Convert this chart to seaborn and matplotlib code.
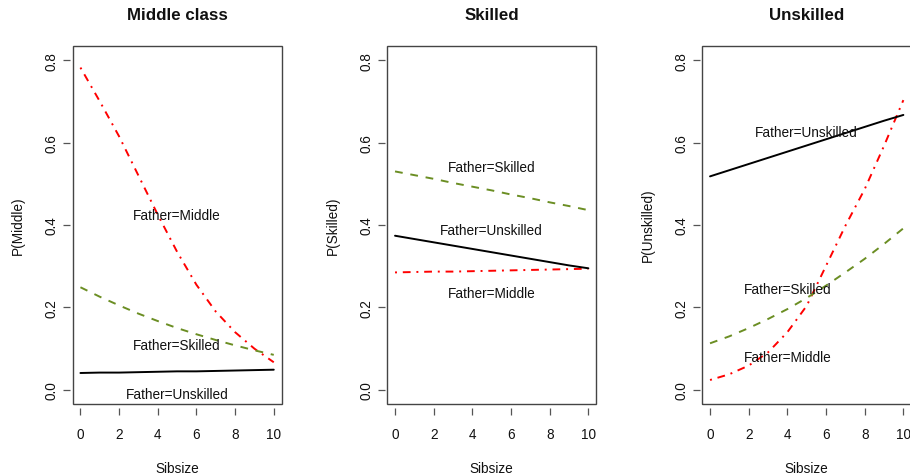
import matplotlib
matplotlib.use("Agg")
import matplotlib.pyplot as plt
from matplotlib.patches import Rectangle
import numpy as np
import pandas as pd
import seaborn as sns

sibsize = [0, 1, 2, 3, 4, 5, 6, 7, 8, 9, 10]

# Panel 1: P(Middle)
middle_fmiddle = [0.782, 0.700, 0.615, 0.520, 0.425, 0.335, 0.255, 0.190, 0.140, 0.100, 0.067]
middle_fskilled = [0.249, 0.226, 0.205, 0.185, 0.167, 0.150, 0.135, 0.121, 0.108, 0.096, 0.085]
middle_funskilled = [0.041, 0.042, 0.042, 0.043, 0.044, 0.045, 0.045, 0.046, 0.047, 0.048, 0.049]

# Panel 2: P(Skilled)
skilled_fskilled = [0.530, 0.521, 0.512, 0.502, 0.493, 0.484, 0.474, 0.465, 0.455, 0.446, 0.436]
skilled_funskilled = [0.374, 0.366, 0.358, 0.350, 0.342, 0.334, 0.326, 0.318, 0.310, 0.302, 0.295]
skilled_fmiddle = [0.285, 0.286, 0.287, 0.287, 0.288, 0.289, 0.290, 0.291, 0.292, 0.293, 0.294]

# Panel 3: P(Unskilled)
unskilled_funskilled = [0.518, 0.533, 0.548, 0.563, 0.578, 0.593, 0.608, 0.623, 0.638, 0.653, 0.667]
unskilled_fskilled = [0.113, 0.130, 0.150, 0.172, 0.196, 0.223, 0.253, 0.285, 0.318, 0.354, 0.392]
unskilled_fmiddle = [0.024, 0.038, 0.059, 0.091, 0.140, 0.204, 0.301, 0.398, 0.487, 0.592, 0.703]

titles = ["Middle class", "Skilled", "Unskilled"]
ylabels = ["P(Middle)", "P(Skilled)", "P(Unskilled)"]
xlabel = "Sibsize"
xticks = [0, 2, 4, 6, 8, 10]
yticks = [0.0, 0.2, 0.4, 0.6, 0.8]
ytick_labels = ["0.0", "0.2", "0.4", "0.6", "0.8"]

# label positions (x, y) per panel for Middle, Skilled, Unskilled fathers
label_text = ["Father=Middle", "Father=Skilled", "Father=Unskilled"]
label_pos = [
    [(5.0, 0.425), (5.0, 0.109), (5.0, -0.010)],
    [(5.0, 0.234), (5.0, 0.541), (5.0, 0.388)],
    [(4.0, 0.081), (4.0, 0.245), (5.0, 0.626)],
]

panels = [
    (middle_fmiddle, middle_fskilled, middle_funskilled),
    (skilled_fmiddle, skilled_fskilled, skilled_funskilled),
    (unskilled_fmiddle, unskilled_fskilled, unskilled_funskilled),
]

colors = ["#FF0000", "#6B8E23", "#000000"]
styles = [(0, (1, 3, 4, 3)), (0, (4, 4)), "-"]

sns.set_theme(style="white")
plt.rcParams["font.family"] = ["Liberation Sans", "DejaVu Sans"]

fig = plt.figure(figsize=(9.1, 4.77), dpi=100)
lefts = [72.7 / 910, 387.3 / 910, 702.3 / 910]
width = 208.8 / 910
bottom = 1 - 404.5 / 477
height = (404.5 - 46.7) / 477

for i, (vals, left) in enumerate(zip(panels, lefts)):
    ax = fig.add_axes([left, bottom, width, height])
    for sp in ax.spines.values():
        sp.set_visible(False)
    ax.spines["bottom"].set_position(("outward", 3))
    ax.spines["left"].set_position(("outward", 2))
    for v, c, ls in zip(vals, colors, styles):
        sns.lineplot(x=sibsize, y=v, color=c, linestyle=ls, linewidth=1.4, ax=ax)
    for (tx, ty), t in zip(label_pos[i], label_text):
        ax.text(tx, ty, t, ha="center", va="center", fontsize=9.8, color="#111111")
    ax.set_xlim(-0.4, 10.4)
    ax.set_ylim(-0.033, 0.835)
    ax.set_xticks(xticks)
    ax.set_xticklabels([str(t) for t in xticks], fontsize=9.8)
    ax.set_yticks(yticks)
    ax.set_yticklabels(ytick_labels, fontsize=9.8)
    for lab in ax.get_yticklabels():
        lab.set_rotation(90)
        lab.set_va("center")
    ax.add_patch(Rectangle((0, 0), 1, 1, transform=ax.transAxes, fill=False,
                           edgecolor="#444444", linewidth=1.0, clip_on=False))
    ax.tick_params(axis="both", which="both", direction="out", length=5,
                   width=0.9, color="#555555", labelcolor="#111111",
                   bottom=True, left=True)
    ax.tick_params(axis="x", pad=9)
    ax.tick_params(axis="y", pad=3)
    ax.set_xlabel(xlabel, fontsize=9.8, labelpad=14, color="#111111")
    ax.set_ylabel(ylabels[i], fontsize=9.8, labelpad=14, color="#111111")
    ax.set_title(titles[i], fontsize=12.2, fontweight="bold", pad=19, color="#111111")

fig.savefig("out.png", dpi=100)
